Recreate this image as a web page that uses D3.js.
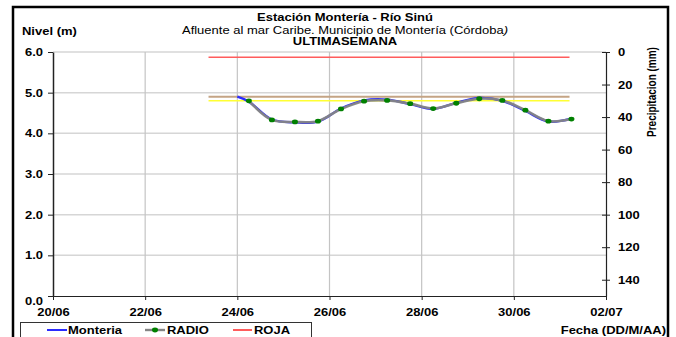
<!DOCTYPE html>
<html><head><meta charset="utf-8">
<script src="https://cdn.jsdelivr.net/npm/d3@7"></script>
<style>
html,body{margin:0;padding:0;background:#fff;}
svg{display:block;font-family:"Liberation Sans",Arial,sans-serif;}
</style></head>
<body><svg id="c" width="676" height="337"></svg>
<script>
// ---- data ----
const xTickLabels = ["20/06","22/06","24/06","26/06","28/06","30/06","02/07"];
const yTicks = [0,1,2,3,4,5,6];
const precipTicks = [0,20,40,60,80,100,120,140];

const fechasMonteria = ["2024-06-24T00:00","2024-06-24T06:00","2024-06-24T18:00","2024-06-25T06:00","2024-06-25T18:00",
  "2024-06-26T06:00","2024-06-26T18:00","2024-06-27T06:00","2024-06-27T18:00","2024-06-28T06:00","2024-06-28T18:00",
  "2024-06-29T06:00","2024-06-29T18:00","2024-06-30T06:00","2024-06-30T18:00","2024-07-01T06:00"];
const nivelMonteria = [4.90,4.78,4.34,4.27,4.29,4.61,4.81,4.83,4.72,4.60,4.75,4.87,4.80,4.55,4.29,4.36];

const fechasRadio = ["2024-06-24T06:00","2024-06-24T18:00","2024-06-25T06:00","2024-06-25T18:00",
  "2024-06-26T06:00","2024-06-26T18:00","2024-06-27T06:00","2024-06-27T18:00","2024-06-28T06:00","2024-06-28T18:00",
  "2024-06-29T06:00","2024-06-29T18:00","2024-06-30T06:00","2024-06-30T18:00","2024-07-01T06:00"];
const nivelRadio = [4.80,4.33,4.28,4.30,4.60,4.79,4.81,4.73,4.61,4.74,4.85,4.81,4.57,4.30,4.35];

const fechasUmbral = ["2024-06-23T09:00","2024-07-01T05:00"];
const nivelRoja = [5.87,5.87];
const nivelNaranja = [4.90,4.90];
const nivelAmarilla = [4.80,4.80];

// ---- setup ----
const SX = 1.3; // horizontal text stretch of the reference
const svg = d3.select("#c");
const parseTick = s => { const [d,m] = s.split("/"); return new Date(2024, +m-1, +d); };
const parseT = d3.timeParse("%Y-%m-%dT%H:%M");

const L = 53, R = 606, T = 52, B = 296;
const x = d3.scaleTime().domain([parseTick(xTickLabels[0]), parseTick(xTickLabels[xTickLabels.length-1])]).range([L,R]);
const y = d3.scaleLinear().domain([0,6]).range([B,T]);
const yP = d3.scaleLinear().domain([0,150]).range([T,B]);

function txt(g, px, py, s, o={}) {
  const t = g.append("text")
    .attr("transform", `translate(${px},${py}) scale(${o.sx||SX},1)`)
    .attr("text-anchor", o.anchor||"start")
    .attr("font-size", o.size||10)
    .attr("font-weight", o.weight||"bold")
    .attr("fill", "#000");
  if (s !== null) t.text(s);
  return t;
}

// grid
const grid = svg.append("g");
grid.selectAll("line.h").data(yTicks.slice(1)).join("line")
  .attr("x1", L).attr("x2", R).attr("y1", d=>y(d)).attr("y2", d=>y(d))
  .attr("stroke", "#d6d6d6").attr("stroke-width", 1.5);
grid.selectAll("line.v").data(xTickLabels.slice(1,-1)).join("line")
  .attr("x1", d=>x(parseTick(d))).attr("x2", d=>x(parseTick(d))).attr("y1", T).attr("y2", B)
  .attr("stroke", "#c4c4c4").attr("stroke-width", 1.2);

// threshold lines
const thr = (vals, color, w) => svg.append("path")
  .datum(fechasUmbral.map((f,i)=>({t:parseT(f), v:vals[i]})))
  .attr("d", d3.line().x(d=>x(d.t)).y(d=>y(d.v)))
  .attr("fill","none").attr("stroke",color).attr("stroke-width",w);
thr(nivelRoja, "#ff5c5c", 1.5);
thr(nivelNaranja, "#c4a485", 2.2);
thr(nivelAmarilla, "#ffff33", 1.5);

// series
const curve = d3.curveCatmullRom.alpha(0.5);
const monteria = fechasMonteria.map((f,i)=>({t:parseT(f), v:nivelMonteria[i]}));
const radio = fechasRadio.map((f,i)=>({t:parseT(f), v:nivelRadio[i]}));
svg.append("path").datum(monteria)
  .attr("d", d3.line().x(d=>x(d.t)).y(d=>y(d.v)).curve(curve))
  .attr("fill","none").attr("stroke","#2b2bff").attr("stroke-width",2.4);
svg.append("path").datum(radio)
  .attr("d", d3.line().x(d=>x(d.t)).y(d=>y(d.v)).curve(curve))
  .attr("fill","none").attr("stroke","#858585").attr("stroke-width",2.6).attr("stroke-opacity",0.95);
svg.selectAll("ellipse.pt").data(radio).join("ellipse")
  .attr("cx", d=>x(d.t)).attr("cy", d=>y(d.v)).attr("rx", 3).attr("ry", 2.4)
  .attr("fill", "#008000");

// left axis
const gL = svg.append("g").attr("transform", `translate(${L},0)`)
  .call(d3.axisLeft(y).tickValues(yTicks).tickFormat(d3.format(".1f")).tickSizeInner(5).tickSizeOuter(0));
gL.select(".domain").attr("stroke","#222").attr("stroke-width",1.5);
gL.selectAll(".tick line").attr("stroke","#222");
gL.selectAll(".tick text").attr("x",0).attr("dy",null)
  .attr("transform", d=>`translate(-10,${d===0?8:3.5}) scale(${SX},1)`)
  .attr("font-size",10).attr("font-weight","bold").attr("fill","#000").attr("font-family",null);

// right axis
const gR = svg.append("g").attr("transform", `translate(${R},0)`)
  .call(d3.axisRight(yP).tickValues(precipTicks).tickSizeInner(4).tickSizeOuter(0));
gR.select(".domain").attr("stroke","#222").attr("stroke-width",1.2);
gR.selectAll(".tick line").attr("stroke","#222").attr("x1",-4);
gR.selectAll(".tick text").attr("x",0).attr("dy",null)
  .attr("transform", `translate(12,3.5) scale(${SX},1)`)
  .attr("font-size",10).attr("font-weight","bold").attr("fill","#000").attr("font-family",null);

// bottom axis
const gB = svg.append("g").attr("transform", `translate(0,${B})`)
  .call(d3.axisBottom(x).tickValues(xTickLabels.map(parseTick)).tickFormat(d3.timeFormat("%d/%m")).tickSizeInner(4).tickSizeOuter(0));
gB.select(".domain").attr("stroke","#222").attr("stroke-width",1.2);
gB.selectAll(".tick line").attr("stroke","#222");
gB.selectAll(".tick text").attr("y",0).attr("dy",null)
  .attr("transform", `translate(0,19.5) scale(${SX},1)`)
  .attr("font-size",10).attr("font-weight","bold").attr("fill","#000").attr("font-family",null);

// titles
txt(svg, 345, 21, "Estación Montería  - Río Sinú", {anchor:"middle"});
const sub = txt(svg, 345, 33.5, null, {anchor:"middle", weight:"normal"});
sub.append("tspan").text("Afluente al mar Caribe. Municipio de Montería (Córdoba");
sub.append("tspan").attr("font-style","italic").text(")");
txt(svg, 345, 44.5, "ULTIMASEMANA", {anchor:"middle"});
txt(svg, 22, 34.5, "Nivel (m)");
svg.append("text").attr("transform","translate(656,92) rotate(-90) scale(1,1.3)")
  .attr("text-anchor","middle").attr("font-size",10).attr("font-weight","bold").text("Precipitacion (mm)");
txt(svg, 666, 333.5, "Fecha (DD/M/AA)", {anchor:"end"});

// legend
svg.append("rect").attr("x",20.5).attr("y",322.5).attr("width",291).attr("height",24)
  .attr("fill","#fff").attr("stroke","#333").attr("stroke-width",1);
const leg = [
  {name:"Monteria", color:"#2b2bff", x1:47, x2:67, tx:68, dot:false},
  {name:"RADIO", color:"#858585", x1:145, x2:165, tx:167, dot:true},
  {name:"ROJA", color:"#ff5c5c", x1:233, x2:252, tx:254, dot:false}
];
leg.forEach(d=>{
  svg.append("line").attr("x1",d.x1).attr("x2",d.x2).attr("y1",330).attr("y2",330)
    .attr("stroke",d.color).attr("stroke-width",d.dot?2.4:2);
  if (d.dot) svg.append("ellipse").attr("cx",(d.x1+d.x2)/2).attr("cy",330).attr("rx",3).attr("ry",2.4).attr("fill","#008000");
  txt(svg, d.tx, 333.5, d.name);
});

// outer border
svg.append("path").attr("d","M13,345 V7 H668 V345").attr("fill","none").attr("stroke","#000").attr("stroke-width",2.5);
</script></body></html>
